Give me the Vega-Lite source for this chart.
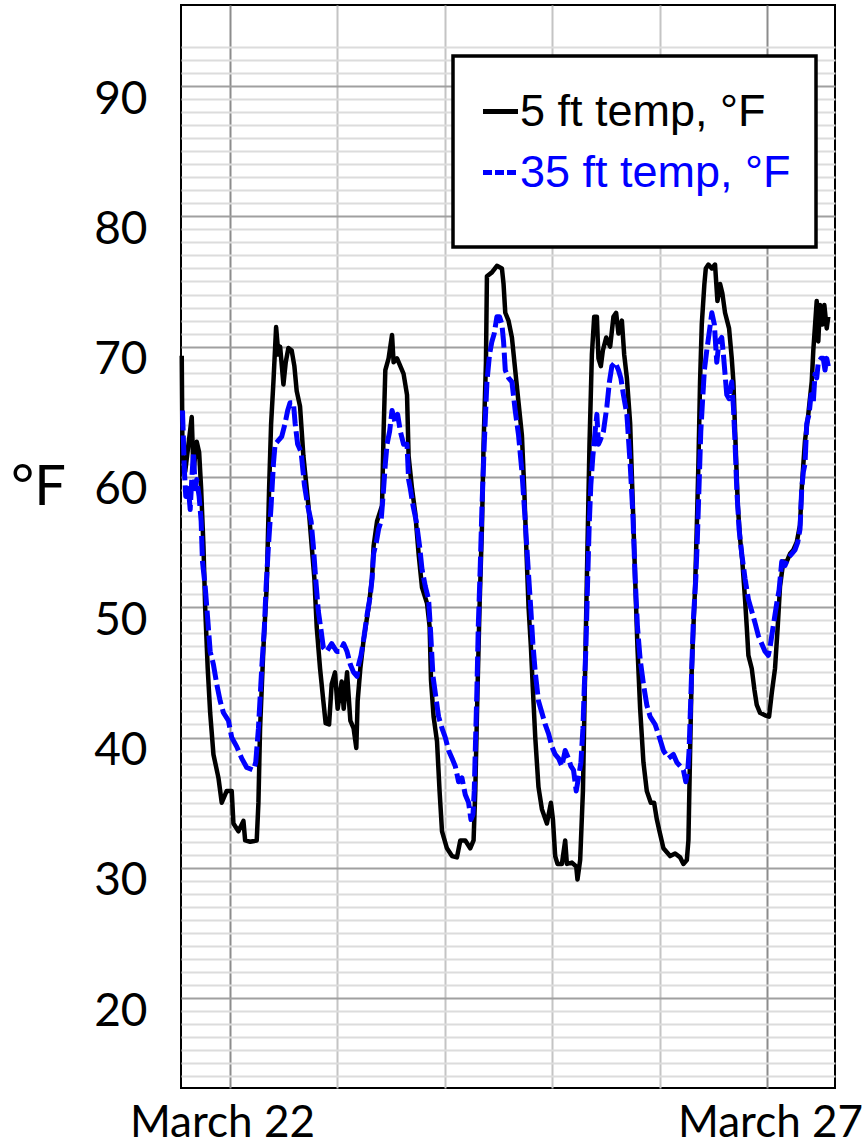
{
 "$schema": "https://vega.github.io/schema/vega-lite/v6.json",
 "width": 654,
 "height": 1083,
 "autosize": {"type": "none"},
 "padding": {"left": 181, "top": 5, "right": 30, "bottom": 59},
 "background": "white",
 "config": {"view": {"stroke": "black", "strokeWidth": 2}},
 "data": {"values": [
{"t":"2019-03-21T13:14Z","v":69.3,"s":"5 ft temp, °F"},
{"t":"2019-03-21T13:24Z","v":61.6,"s":"5 ft temp, °F"},
{"t":"2019-03-21T14:00Z","v":60.4,"s":"5 ft temp, °F"},
{"t":"2019-03-21T15:28Z","v":64.6,"s":"5 ft temp, °F"},
{"t":"2019-03-21T15:51Z","v":60.4,"s":"5 ft temp, °F"},
{"t":"2019-03-21T16:35Z","v":62.7,"s":"5 ft temp, °F"},
{"t":"2019-03-21T17:07Z","v":61.9,"s":"5 ft temp, °F"},
{"t":"2019-03-21T17:34Z","v":59.1,"s":"5 ft temp, °F"},
{"t":"2019-03-21T18:05Z","v":54.7,"s":"5 ft temp, °F"},
{"t":"2019-03-21T18:28Z","v":50.0,"s":"5 ft temp, °F"},
{"t":"2019-03-21T19:02Z","v":45.3,"s":"5 ft temp, °F"},
{"t":"2019-03-21T19:35Z","v":41.9,"s":"5 ft temp, °F"},
{"t":"2019-03-21T20:19Z","v":38.7,"s":"5 ft temp, °F"},
{"t":"2019-03-21T21:26Z","v":36.9,"s":"5 ft temp, °F"},
{"t":"2019-03-21T22:10Z","v":35.0,"s":"5 ft temp, °F"},
{"t":"2019-03-21T23:17Z","v":35.9,"s":"5 ft temp, °F"},
{"t":"2019-03-22T00:24Z","v":35.9,"s":"5 ft temp, °F"},
{"t":"2019-03-22T00:47Z","v":33.4,"s":"5 ft temp, °F"},
{"t":"2019-03-22T01:54Z","v":32.8,"s":"5 ft temp, °F"},
{"t":"2019-03-22T03:01Z","v":33.6,"s":"5 ft temp, °F"},
{"t":"2019-03-22T03:24Z","v":32.1,"s":"5 ft temp, °F"},
{"t":"2019-03-22T04:31Z","v":32.0,"s":"5 ft temp, °F"},
{"t":"2019-03-22T05:59Z","v":32.1,"s":"5 ft temp, °F"},
{"t":"2019-03-22T06:22Z","v":35.0,"s":"5 ft temp, °F"},
{"t":"2019-03-22T06:44Z","v":40.7,"s":"5 ft temp, °F"},
{"t":"2019-03-22T07:29Z","v":46.9,"s":"5 ft temp, °F"},
{"t":"2019-03-22T08:13Z","v":51.6,"s":"5 ft temp, °F"},
{"t":"2019-03-22T08:45Z","v":59.1,"s":"5 ft temp, °F"},
{"t":"2019-03-22T09:12Z","v":64.1,"s":"5 ft temp, °F"},
{"t":"2019-03-22T09:43Z","v":67.3,"s":"5 ft temp, °F"},
{"t":"2019-03-22T10:19Z","v":71.5,"s":"5 ft temp, °F"},
{"t":"2019-03-22T10:50Z","v":69.4,"s":"5 ft temp, °F"},
{"t":"2019-03-22T11:13Z","v":70.0,"s":"5 ft temp, °F"},
{"t":"2019-03-22T11:57Z","v":67.1,"s":"5 ft temp, °F"},
{"t":"2019-03-22T12:28Z","v":68.8,"s":"5 ft temp, °F"},
{"t":"2019-03-22T13:04Z","v":69.9,"s":"5 ft temp, °F"},
{"t":"2019-03-22T13:48Z","v":69.7,"s":"5 ft temp, °F"},
{"t":"2019-03-22T14:24Z","v":68.5,"s":"5 ft temp, °F"},
{"t":"2019-03-22T14:55Z","v":66.6,"s":"5 ft temp, °F"},
{"t":"2019-03-22T15:40Z","v":65.4,"s":"5 ft temp, °F"},
{"t":"2019-03-22T16:25Z","v":61.6,"s":"5 ft temp, °F"},
{"t":"2019-03-22T17:32Z","v":57.8,"s":"5 ft temp, °F"},
{"t":"2019-03-22T18:16Z","v":54.7,"s":"5 ft temp, °F"},
{"t":"2019-03-22T18:52Z","v":52.2,"s":"5 ft temp, °F"},
{"t":"2019-03-22T19:23Z","v":48.5,"s":"5 ft temp, °F"},
{"t":"2019-03-22T20:08Z","v":45.3,"s":"5 ft temp, °F"},
{"t":"2019-03-22T20:52Z","v":42.8,"s":"5 ft temp, °F"},
{"t":"2019-03-22T21:23Z","v":41.1,"s":"5 ft temp, °F"},
{"t":"2019-03-22T22:09Z","v":41.0,"s":"5 ft temp, °F"},
{"t":"2019-03-22T22:44Z","v":44.1,"s":"5 ft temp, °F"},
{"t":"2019-03-22T23:29Z","v":45.0,"s":"5 ft temp, °F"},
{"t":"2019-03-23T00:04Z","v":42.2,"s":"5 ft temp, °F"},
{"t":"2019-03-23T00:58Z","v":44.3,"s":"5 ft temp, °F"},
{"t":"2019-03-23T01:25Z","v":42.2,"s":"5 ft temp, °F"},
{"t":"2019-03-23T02:10Z","v":45.0,"s":"5 ft temp, °F"},
{"t":"2019-03-23T02:54Z","v":41.3,"s":"5 ft temp, °F"},
{"t":"2019-03-23T03:38Z","v":40.7,"s":"5 ft temp, °F"},
{"t":"2019-03-23T04:14Z","v":39.2,"s":"5 ft temp, °F"},
{"t":"2019-03-23T04:32Z","v":42.8,"s":"5 ft temp, °F"},
{"t":"2019-03-23T05:08Z","v":45.3,"s":"5 ft temp, °F"},
{"t":"2019-03-23T05:52Z","v":47.5,"s":"5 ft temp, °F"},
{"t":"2019-03-23T06:59Z","v":50.0,"s":"5 ft temp, °F"},
{"t":"2019-03-23T07:45Z","v":52.2,"s":"5 ft temp, °F"},
{"t":"2019-03-23T08:06Z","v":54.7,"s":"5 ft temp, °F"},
{"t":"2019-03-23T08:52Z","v":56.6,"s":"5 ft temp, °F"},
{"t":"2019-03-23T09:59Z","v":57.8,"s":"5 ft temp, °F"},
{"t":"2019-03-23T10:20Z","v":63.5,"s":"5 ft temp, °F"},
{"t":"2019-03-23T10:43Z","v":68.2,"s":"5 ft temp, °F"},
{"t":"2019-03-23T11:27Z","v":69.1,"s":"5 ft temp, °F"},
{"t":"2019-03-23T12:13Z","v":70.9,"s":"5 ft temp, °F"},
{"t":"2019-03-23T12:34Z","v":68.8,"s":"5 ft temp, °F"},
{"t":"2019-03-23T13:20Z","v":69.1,"s":"5 ft temp, °F"},
{"t":"2019-03-23T14:04Z","v":68.5,"s":"5 ft temp, °F"},
{"t":"2019-03-23T14:48Z","v":67.9,"s":"5 ft temp, °F"},
{"t":"2019-03-23T15:34Z","v":66.3,"s":"5 ft temp, °F"},
{"t":"2019-03-23T15:55Z","v":61.6,"s":"5 ft temp, °F"},
{"t":"2019-03-23T16:41Z","v":59.1,"s":"5 ft temp, °F"},
{"t":"2019-03-23T17:25Z","v":57.2,"s":"5 ft temp, °F"},
{"t":"2019-03-23T18:09Z","v":54.1,"s":"5 ft temp, °F"},
{"t":"2019-03-23T18:55Z","v":51.5,"s":"5 ft temp, °F"},
{"t":"2019-03-23T20:02Z","v":50.3,"s":"5 ft temp, °F"},
{"t":"2019-03-23T20:37Z","v":48.5,"s":"5 ft temp, °F"},
{"t":"2019-03-23T20:55Z","v":44.4,"s":"5 ft temp, °F"},
{"t":"2019-03-23T21:30Z","v":41.6,"s":"5 ft temp, °F"},
{"t":"2019-03-23T22:16Z","v":39.7,"s":"5 ft temp, °F"},
{"t":"2019-03-23T22:50Z","v":35.9,"s":"5 ft temp, °F"},
{"t":"2019-03-23T23:23Z","v":32.8,"s":"5 ft temp, °F"},
{"t":"2019-03-24T00:29Z","v":31.5,"s":"5 ft temp, °F"},
{"t":"2019-03-24T01:37Z","v":30.9,"s":"5 ft temp, °F"},
{"t":"2019-03-24T02:43Z","v":30.8,"s":"5 ft temp, °F"},
{"t":"2019-03-24T03:28Z","v":32.1,"s":"5 ft temp, °F"},
{"t":"2019-03-24T04:35Z","v":32.1,"s":"5 ft temp, °F"},
{"t":"2019-03-24T05:41Z","v":31.5,"s":"5 ft temp, °F"},
{"t":"2019-03-24T06:26Z","v":32.1,"s":"5 ft temp, °F"},
{"t":"2019-03-24T06:49Z","v":35.9,"s":"5 ft temp, °F"},
{"t":"2019-03-24T07:19Z","v":43.7,"s":"5 ft temp, °F"},
{"t":"2019-03-24T07:46Z","v":50.0,"s":"5 ft temp, °F"},
{"t":"2019-03-24T08:19Z","v":56.3,"s":"5 ft temp, °F"},
{"t":"2019-03-24T08:40Z","v":62.5,"s":"5 ft temp, °F"},
{"t":"2019-03-24T09:12Z","v":68.8,"s":"5 ft temp, °F"},
{"t":"2019-03-24T09:25Z","v":75.4,"s":"5 ft temp, °F"},
{"t":"2019-03-24T10:32Z","v":75.7,"s":"5 ft temp, °F"},
{"t":"2019-03-24T11:39Z","v":76.2,"s":"5 ft temp, °F"},
{"t":"2019-03-24T12:46Z","v":76.0,"s":"5 ft temp, °F"},
{"t":"2019-03-24T13:08Z","v":74.8,"s":"5 ft temp, °F"},
{"t":"2019-03-24T13:31Z","v":72.6,"s":"5 ft temp, °F"},
{"t":"2019-03-24T14:14Z","v":72.0,"s":"5 ft temp, °F"},
{"t":"2019-03-24T15:00Z","v":70.7,"s":"5 ft temp, °F"},
{"t":"2019-03-24T15:44Z","v":68.2,"s":"5 ft temp, °F"},
{"t":"2019-03-24T16:29Z","v":65.7,"s":"5 ft temp, °F"},
{"t":"2019-03-24T17:14Z","v":63.2,"s":"5 ft temp, °F"},
{"t":"2019-03-24T17:45Z","v":59.1,"s":"5 ft temp, °F"},
{"t":"2019-03-24T18:12Z","v":54.7,"s":"5 ft temp, °F"},
{"t":"2019-03-24T18:43Z","v":50.0,"s":"5 ft temp, °F"},
{"t":"2019-03-24T19:15Z","v":46.9,"s":"5 ft temp, °F"},
{"t":"2019-03-24T19:41Z","v":43.7,"s":"5 ft temp, °F"},
{"t":"2019-03-24T20:13Z","v":40.0,"s":"5 ft temp, °F"},
{"t":"2019-03-24T20:56Z","v":36.2,"s":"5 ft temp, °F"},
{"t":"2019-03-24T21:42Z","v":34.5,"s":"5 ft temp, °F"},
{"t":"2019-03-24T22:49Z","v":33.4,"s":"5 ft temp, °F"},
{"t":"2019-03-24T23:43Z","v":35.0,"s":"5 ft temp, °F"},
{"t":"2019-03-25T00:10Z","v":33.7,"s":"5 ft temp, °F"},
{"t":"2019-03-25T00:40Z","v":30.9,"s":"5 ft temp, °F"},
{"t":"2019-03-25T01:11Z","v":30.3,"s":"5 ft temp, °F"},
{"t":"2019-03-25T02:10Z","v":30.3,"s":"5 ft temp, °F"},
{"t":"2019-03-25T02:54Z","v":32.1,"s":"5 ft temp, °F"},
{"t":"2019-03-25T03:17Z","v":30.3,"s":"5 ft temp, °F"},
{"t":"2019-03-25T04:24Z","v":30.4,"s":"5 ft temp, °F"},
{"t":"2019-03-25T05:22Z","v":30.1,"s":"5 ft temp, °F"},
{"t":"2019-03-25T05:39Z","v":29.1,"s":"5 ft temp, °F"},
{"t":"2019-03-25T06:15Z","v":30.6,"s":"5 ft temp, °F"},
{"t":"2019-03-25T06:52Z","v":35.9,"s":"5 ft temp, °F"},
{"t":"2019-03-25T07:22Z","v":45.3,"s":"5 ft temp, °F"},
{"t":"2019-03-25T07:53Z","v":54.7,"s":"5 ft temp, °F"},
{"t":"2019-03-25T08:20Z","v":62.5,"s":"5 ft temp, °F"},
{"t":"2019-03-25T08:52Z","v":69.4,"s":"5 ft temp, °F"},
{"t":"2019-03-25T09:23Z","v":72.3,"s":"5 ft temp, °F"},
{"t":"2019-03-25T09:59Z","v":72.3,"s":"5 ft temp, °F"},
{"t":"2019-03-25T10:20Z","v":69.1,"s":"5 ft temp, °F"},
{"t":"2019-03-25T10:52Z","v":68.5,"s":"5 ft temp, °F"},
{"t":"2019-03-25T11:19Z","v":69.7,"s":"5 ft temp, °F"},
{"t":"2019-03-25T12:04Z","v":70.7,"s":"5 ft temp, °F"},
{"t":"2019-03-25T12:57Z","v":70.0,"s":"5 ft temp, °F"},
{"t":"2019-03-25T13:41Z","v":72.3,"s":"5 ft temp, °F"},
{"t":"2019-03-25T14:17Z","v":72.6,"s":"5 ft temp, °F"},
{"t":"2019-03-25T14:48Z","v":71.0,"s":"5 ft temp, °F"},
{"t":"2019-03-25T15:34Z","v":72.0,"s":"5 ft temp, °F"},
{"t":"2019-03-25T16:05Z","v":69.4,"s":"5 ft temp, °F"},
{"t":"2019-03-25T16:41Z","v":67.6,"s":"5 ft temp, °F"},
{"t":"2019-03-25T17:25Z","v":64.1,"s":"5 ft temp, °F"},
{"t":"2019-03-25T18:01Z","v":57.8,"s":"5 ft temp, °F"},
{"t":"2019-03-25T18:32Z","v":52.2,"s":"5 ft temp, °F"},
{"t":"2019-03-25T19:03Z","v":46.9,"s":"5 ft temp, °F"},
{"t":"2019-03-25T19:39Z","v":42.2,"s":"5 ft temp, °F"},
{"t":"2019-03-25T20:23Z","v":38.1,"s":"5 ft temp, °F"},
{"t":"2019-03-25T21:08Z","v":35.9,"s":"5 ft temp, °F"},
{"t":"2019-03-25T22:02Z","v":35.0,"s":"5 ft temp, °F"},
{"t":"2019-03-25T22:46Z","v":35.0,"s":"5 ft temp, °F"},
{"t":"2019-03-25T23:23Z","v":33.7,"s":"5 ft temp, °F"},
{"t":"2019-03-25T23:58Z","v":32.8,"s":"5 ft temp, °F"},
{"t":"2019-03-26T00:51Z","v":31.5,"s":"5 ft temp, °F"},
{"t":"2019-03-26T02:21Z","v":30.9,"s":"5 ft temp, °F"},
{"t":"2019-03-26T03:28Z","v":31.1,"s":"5 ft temp, °F"},
{"t":"2019-03-26T04:35Z","v":30.8,"s":"5 ft temp, °F"},
{"t":"2019-03-26T05:19Z","v":30.3,"s":"5 ft temp, °F"},
{"t":"2019-03-26T06:05Z","v":30.6,"s":"5 ft temp, °F"},
{"t":"2019-03-26T06:26Z","v":32.1,"s":"5 ft temp, °F"},
{"t":"2019-03-26T06:49Z","v":39.0,"s":"5 ft temp, °F"},
{"t":"2019-03-26T07:11Z","v":45.3,"s":"5 ft temp, °F"},
{"t":"2019-03-26T07:33Z","v":48.5,"s":"5 ft temp, °F"},
{"t":"2019-03-26T07:56Z","v":51.6,"s":"5 ft temp, °F"},
{"t":"2019-03-26T08:19Z","v":56.3,"s":"5 ft temp, °F"},
{"t":"2019-03-26T08:40Z","v":61.0,"s":"5 ft temp, °F"},
{"t":"2019-03-26T09:02Z","v":67.3,"s":"5 ft temp, °F"},
{"t":"2019-03-26T09:25Z","v":71.7,"s":"5 ft temp, °F"},
{"t":"2019-03-26T10:00Z","v":74.8,"s":"5 ft temp, °F"},
{"t":"2019-03-26T10:19Z","v":76.0,"s":"5 ft temp, °F"},
{"t":"2019-03-26T10:54Z","v":76.3,"s":"5 ft temp, °F"},
{"t":"2019-03-26T11:40Z","v":76.0,"s":"5 ft temp, °F"},
{"t":"2019-03-26T12:23Z","v":76.3,"s":"5 ft temp, °F"},
{"t":"2019-03-26T12:55Z","v":73.5,"s":"5 ft temp, °F"},
{"t":"2019-03-26T13:31Z","v":74.8,"s":"5 ft temp, °F"},
{"t":"2019-03-26T14:01Z","v":74.1,"s":"5 ft temp, °F"},
{"t":"2019-03-26T14:37Z","v":72.6,"s":"5 ft temp, °F"},
{"t":"2019-03-26T15:31Z","v":71.4,"s":"5 ft temp, °F"},
{"t":"2019-03-26T16:07Z","v":69.1,"s":"5 ft temp, °F"},
{"t":"2019-03-26T16:29Z","v":67.3,"s":"5 ft temp, °F"},
{"t":"2019-03-26T16:52Z","v":63.5,"s":"5 ft temp, °F"},
{"t":"2019-03-26T17:28Z","v":57.8,"s":"5 ft temp, °F"},
{"t":"2019-03-26T17:58Z","v":55.3,"s":"5 ft temp, °F"},
{"t":"2019-03-26T18:29Z","v":53.5,"s":"5 ft temp, °F"},
{"t":"2019-03-26T19:05Z","v":50.6,"s":"5 ft temp, °F"},
{"t":"2019-03-26T19:28Z","v":48.5,"s":"5 ft temp, °F"},
{"t":"2019-03-26T19:50Z","v":46.3,"s":"5 ft temp, °F"},
{"t":"2019-03-26T20:35Z","v":45.3,"s":"5 ft temp, °F"},
{"t":"2019-03-26T21:10Z","v":43.7,"s":"5 ft temp, °F"},
{"t":"2019-03-26T21:42Z","v":42.5,"s":"5 ft temp, °F"},
{"t":"2019-03-26T22:26Z","v":41.9,"s":"5 ft temp, °F"},
{"t":"2019-03-26T23:33Z","v":41.7,"s":"5 ft temp, °F"},
{"t":"2019-03-27T00:27Z","v":41.6,"s":"5 ft temp, °F"},
{"t":"2019-03-27T01:03Z","v":43.4,"s":"5 ft temp, °F"},
{"t":"2019-03-27T01:47Z","v":45.3,"s":"5 ft temp, °F"},
{"t":"2019-03-27T02:23Z","v":48.5,"s":"5 ft temp, °F"},
{"t":"2019-03-27T02:54Z","v":51.6,"s":"5 ft temp, °F"},
{"t":"2019-03-27T03:38Z","v":53.5,"s":"5 ft temp, °F"},
{"t":"2019-03-27T04:24Z","v":53.5,"s":"5 ft temp, °F"},
{"t":"2019-03-27T05:08Z","v":54.1,"s":"5 ft temp, °F"},
{"t":"2019-03-27T05:52Z","v":54.4,"s":"5 ft temp, °F"},
{"t":"2019-03-27T06:38Z","v":55.0,"s":"5 ft temp, °F"},
{"t":"2019-03-27T07:22Z","v":56.3,"s":"5 ft temp, °F"},
{"t":"2019-03-27T07:45Z","v":59.1,"s":"5 ft temp, °F"},
{"t":"2019-03-27T08:07Z","v":61.0,"s":"5 ft temp, °F"},
{"t":"2019-03-27T08:29Z","v":62.8,"s":"5 ft temp, °F"},
{"t":"2019-03-27T09:13Z","v":64.8,"s":"5 ft temp, °F"},
{"t":"2019-03-27T09:59Z","v":67.3,"s":"5 ft temp, °F"},
{"t":"2019-03-27T10:20Z","v":69.7,"s":"5 ft temp, °F"},
{"t":"2019-03-27T11:06Z","v":73.5,"s":"5 ft temp, °F"},
{"t":"2019-03-27T11:27Z","v":70.4,"s":"5 ft temp, °F"},
{"t":"2019-03-27T11:50Z","v":73.2,"s":"5 ft temp, °F"},
{"t":"2019-03-27T12:21Z","v":71.7,"s":"5 ft temp, °F"},
{"t":"2019-03-27T12:48Z","v":73.2,"s":"5 ft temp, °F"},
{"t":"2019-03-27T13:20Z","v":71.4,"s":"5 ft temp, °F"},
{"t":"2019-03-27T13:41Z","v":72.3,"s":"5 ft temp, °F"},
{"t":"2019-03-21T13:24Z","v":65.1,"s":"35 ft temp, °F"},
{"t":"2019-03-21T13:50Z","v":60.4,"s":"35 ft temp, °F"},
{"t":"2019-03-21T14:08Z","v":58.5,"s":"35 ft temp, °F"},
{"t":"2019-03-21T14:44Z","v":59.1,"s":"35 ft temp, °F"},
{"t":"2019-03-21T15:07Z","v":57.5,"s":"35 ft temp, °F"},
{"t":"2019-03-21T15:28Z","v":59.8,"s":"35 ft temp, °F"},
{"t":"2019-03-21T15:51Z","v":61.9,"s":"35 ft temp, °F"},
{"t":"2019-03-21T16:14Z","v":59.1,"s":"35 ft temp, °F"},
{"t":"2019-03-21T16:35Z","v":59.8,"s":"35 ft temp, °F"},
{"t":"2019-03-21T17:07Z","v":58.5,"s":"35 ft temp, °F"},
{"t":"2019-03-21T17:34Z","v":56.6,"s":"35 ft temp, °F"},
{"t":"2019-03-21T17:52Z","v":53.5,"s":"35 ft temp, °F"},
{"t":"2019-03-21T18:28Z","v":51.6,"s":"35 ft temp, °F"},
{"t":"2019-03-21T19:02Z","v":49.1,"s":"35 ft temp, °F"},
{"t":"2019-03-21T19:35Z","v":46.6,"s":"35 ft temp, °F"},
{"t":"2019-03-21T20:19Z","v":45.6,"s":"35 ft temp, °F"},
{"t":"2019-03-21T21:03Z","v":44.1,"s":"35 ft temp, °F"},
{"t":"2019-03-21T21:49Z","v":42.8,"s":"35 ft temp, °F"},
{"t":"2019-03-21T22:33Z","v":41.9,"s":"35 ft temp, °F"},
{"t":"2019-03-21T23:40Z","v":41.3,"s":"35 ft temp, °F"},
{"t":"2019-03-22T00:24Z","v":40.0,"s":"35 ft temp, °F"},
{"t":"2019-03-22T01:31Z","v":39.3,"s":"35 ft temp, °F"},
{"t":"2019-03-22T02:38Z","v":38.4,"s":"35 ft temp, °F"},
{"t":"2019-03-22T03:45Z","v":37.7,"s":"35 ft temp, °F"},
{"t":"2019-03-22T05:15Z","v":37.5,"s":"35 ft temp, °F"},
{"t":"2019-03-22T05:46Z","v":38.1,"s":"35 ft temp, °F"},
{"t":"2019-03-22T06:22Z","v":40.7,"s":"35 ft temp, °F"},
{"t":"2019-03-22T07:06Z","v":45.3,"s":"35 ft temp, °F"},
{"t":"2019-03-22T07:42Z","v":48.5,"s":"35 ft temp, °F"},
{"t":"2019-03-22T08:05Z","v":51.6,"s":"35 ft temp, °F"},
{"t":"2019-03-22T08:36Z","v":54.7,"s":"35 ft temp, °F"},
{"t":"2019-03-22T09:12Z","v":57.8,"s":"35 ft temp, °F"},
{"t":"2019-03-22T09:43Z","v":61.0,"s":"35 ft temp, °F"},
{"t":"2019-03-22T10:05Z","v":62.5,"s":"35 ft temp, °F"},
{"t":"2019-03-22T10:50Z","v":62.8,"s":"35 ft temp, °F"},
{"t":"2019-03-22T11:34Z","v":63.1,"s":"35 ft temp, °F"},
{"t":"2019-03-22T12:19Z","v":64.1,"s":"35 ft temp, °F"},
{"t":"2019-03-22T12:54Z","v":65.1,"s":"35 ft temp, °F"},
{"t":"2019-03-22T13:26Z","v":65.7,"s":"35 ft temp, °F"},
{"t":"2019-03-22T14:11Z","v":65.7,"s":"35 ft temp, °F"},
{"t":"2019-03-22T14:34Z","v":64.1,"s":"35 ft temp, °F"},
{"t":"2019-03-22T15:08Z","v":62.5,"s":"35 ft temp, °F"},
{"t":"2019-03-22T15:54Z","v":61.9,"s":"35 ft temp, °F"},
{"t":"2019-03-22T16:38Z","v":59.4,"s":"35 ft temp, °F"},
{"t":"2019-03-22T17:22Z","v":57.8,"s":"35 ft temp, °F"},
{"t":"2019-03-22T18:08Z","v":56.6,"s":"35 ft temp, °F"},
{"t":"2019-03-22T18:38Z","v":54.7,"s":"35 ft temp, °F"},
{"t":"2019-03-22T19:09Z","v":52.2,"s":"35 ft temp, °F"},
{"t":"2019-03-22T19:45Z","v":49.7,"s":"35 ft temp, °F"},
{"t":"2019-03-22T20:22Z","v":48.2,"s":"35 ft temp, °F"},
{"t":"2019-03-22T20:52Z","v":46.9,"s":"35 ft temp, °F"},
{"t":"2019-03-22T21:37Z","v":46.6,"s":"35 ft temp, °F"},
{"t":"2019-03-22T22:44Z","v":47.2,"s":"35 ft temp, °F"},
{"t":"2019-03-22T23:51Z","v":46.6,"s":"35 ft temp, °F"},
{"t":"2019-03-23T00:40Z","v":46.6,"s":"35 ft temp, °F"},
{"t":"2019-03-23T01:25Z","v":47.2,"s":"35 ft temp, °F"},
{"t":"2019-03-23T02:10Z","v":46.6,"s":"35 ft temp, °F"},
{"t":"2019-03-23T02:54Z","v":45.6,"s":"35 ft temp, °F"},
{"t":"2019-03-23T03:38Z","v":45.0,"s":"35 ft temp, °F"},
{"t":"2019-03-23T04:24Z","v":44.7,"s":"35 ft temp, °F"},
{"t":"2019-03-23T04:45Z","v":45.6,"s":"35 ft temp, °F"},
{"t":"2019-03-23T05:17Z","v":46.3,"s":"35 ft temp, °F"},
{"t":"2019-03-23T05:52Z","v":47.5,"s":"35 ft temp, °F"},
{"t":"2019-03-23T06:38Z","v":49.4,"s":"35 ft temp, °F"},
{"t":"2019-03-23T07:22Z","v":50.9,"s":"35 ft temp, °F"},
{"t":"2019-03-23T07:45Z","v":52.2,"s":"35 ft temp, °F"},
{"t":"2019-03-23T08:06Z","v":54.1,"s":"35 ft temp, °F"},
{"t":"2019-03-23T08:43Z","v":55.0,"s":"35 ft temp, °F"},
{"t":"2019-03-23T09:13Z","v":56.0,"s":"35 ft temp, °F"},
{"t":"2019-03-23T09:46Z","v":56.6,"s":"35 ft temp, °F"},
{"t":"2019-03-23T10:20Z","v":59.1,"s":"35 ft temp, °F"},
{"t":"2019-03-23T10:43Z","v":61.0,"s":"35 ft temp, °F"},
{"t":"2019-03-23T11:06Z","v":62.5,"s":"35 ft temp, °F"},
{"t":"2019-03-23T11:41Z","v":63.5,"s":"35 ft temp, °F"},
{"t":"2019-03-23T12:13Z","v":65.1,"s":"35 ft temp, °F"},
{"t":"2019-03-23T12:57Z","v":64.1,"s":"35 ft temp, °F"},
{"t":"2019-03-23T13:28Z","v":64.8,"s":"35 ft temp, °F"},
{"t":"2019-03-23T14:04Z","v":63.5,"s":"35 ft temp, °F"},
{"t":"2019-03-23T14:48Z","v":62.5,"s":"35 ft temp, °F"},
{"t":"2019-03-23T15:34Z","v":62.5,"s":"35 ft temp, °F"},
{"t":"2019-03-23T15:55Z","v":59.8,"s":"35 ft temp, °F"},
{"t":"2019-03-23T16:18Z","v":59.1,"s":"35 ft temp, °F"},
{"t":"2019-03-23T16:54Z","v":57.8,"s":"35 ft temp, °F"},
{"t":"2019-03-23T17:38Z","v":56.6,"s":"35 ft temp, °F"},
{"t":"2019-03-23T18:22Z","v":54.7,"s":"35 ft temp, °F"},
{"t":"2019-03-23T18:55Z","v":52.9,"s":"35 ft temp, °F"},
{"t":"2019-03-23T19:39Z","v":51.6,"s":"35 ft temp, °F"},
{"t":"2019-03-23T20:23Z","v":50.6,"s":"35 ft temp, °F"},
{"t":"2019-03-23T20:46Z","v":48.5,"s":"35 ft temp, °F"},
{"t":"2019-03-23T21:22Z","v":44.7,"s":"35 ft temp, °F"},
{"t":"2019-03-23T21:53Z","v":43.4,"s":"35 ft temp, °F"},
{"t":"2019-03-23T22:37Z","v":41.6,"s":"35 ft temp, °F"},
{"t":"2019-03-23T23:23Z","v":40.7,"s":"35 ft temp, °F"},
{"t":"2019-03-24T00:07Z","v":40.0,"s":"35 ft temp, °F"},
{"t":"2019-03-24T00:51Z","v":39.0,"s":"35 ft temp, °F"},
{"t":"2019-03-24T01:37Z","v":38.4,"s":"35 ft temp, °F"},
{"t":"2019-03-24T02:21Z","v":37.8,"s":"35 ft temp, °F"},
{"t":"2019-03-24T03:05Z","v":36.6,"s":"35 ft temp, °F"},
{"t":"2019-03-24T03:50Z","v":36.9,"s":"35 ft temp, °F"},
{"t":"2019-03-24T04:35Z","v":35.6,"s":"35 ft temp, °F"},
{"t":"2019-03-24T05:19Z","v":35.0,"s":"35 ft temp, °F"},
{"t":"2019-03-24T05:51Z","v":33.7,"s":"35 ft temp, °F"},
{"t":"2019-03-24T06:18Z","v":34.1,"s":"35 ft temp, °F"},
{"t":"2019-03-24T06:35Z","v":35.9,"s":"35 ft temp, °F"},
{"t":"2019-03-24T06:49Z","v":39.0,"s":"35 ft temp, °F"},
{"t":"2019-03-24T07:11Z","v":43.7,"s":"35 ft temp, °F"},
{"t":"2019-03-24T07:29Z","v":48.5,"s":"35 ft temp, °F"},
{"t":"2019-03-24T07:56Z","v":53.2,"s":"35 ft temp, °F"},
{"t":"2019-03-24T08:19Z","v":57.8,"s":"35 ft temp, °F"},
{"t":"2019-03-24T08:49Z","v":62.5,"s":"35 ft temp, °F"},
{"t":"2019-03-24T09:25Z","v":67.3,"s":"35 ft temp, °F"},
{"t":"2019-03-24T10:00Z","v":69.4,"s":"35 ft temp, °F"},
{"t":"2019-03-24T10:32Z","v":70.4,"s":"35 ft temp, °F"},
{"t":"2019-03-24T11:03Z","v":71.0,"s":"35 ft temp, °F"},
{"t":"2019-03-24T11:39Z","v":72.3,"s":"35 ft temp, °F"},
{"t":"2019-03-24T12:14Z","v":72.3,"s":"35 ft temp, °F"},
{"t":"2019-03-24T12:46Z","v":71.7,"s":"35 ft temp, °F"},
{"t":"2019-03-24T13:08Z","v":70.4,"s":"35 ft temp, °F"},
{"t":"2019-03-24T13:31Z","v":68.2,"s":"35 ft temp, °F"},
{"t":"2019-03-24T14:14Z","v":67.6,"s":"35 ft temp, °F"},
{"t":"2019-03-24T15:00Z","v":67.3,"s":"35 ft temp, °F"},
{"t":"2019-03-24T15:44Z","v":65.1,"s":"35 ft temp, °F"},
{"t":"2019-03-24T16:29Z","v":63.2,"s":"35 ft temp, °F"},
{"t":"2019-03-24T17:14Z","v":60.4,"s":"35 ft temp, °F"},
{"t":"2019-03-24T17:45Z","v":57.8,"s":"35 ft temp, °F"},
{"t":"2019-03-24T18:12Z","v":55.3,"s":"35 ft temp, °F"},
{"t":"2019-03-24T18:43Z","v":52.5,"s":"35 ft temp, °F"},
{"t":"2019-03-24T19:15Z","v":49.7,"s":"35 ft temp, °F"},
{"t":"2019-03-24T19:41Z","v":47.2,"s":"35 ft temp, °F"},
{"t":"2019-03-24T20:13Z","v":45.0,"s":"35 ft temp, °F"},
{"t":"2019-03-24T20:56Z","v":42.8,"s":"35 ft temp, °F"},
{"t":"2019-03-24T21:42Z","v":41.9,"s":"35 ft temp, °F"},
{"t":"2019-03-24T22:26Z","v":41.0,"s":"35 ft temp, °F"},
{"t":"2019-03-24T23:11Z","v":40.3,"s":"35 ft temp, °F"},
{"t":"2019-03-24T23:56Z","v":39.3,"s":"35 ft temp, °F"},
{"t":"2019-03-25T00:40Z","v":38.7,"s":"35 ft temp, °F"},
{"t":"2019-03-25T01:25Z","v":38.4,"s":"35 ft temp, °F"},
{"t":"2019-03-25T02:10Z","v":37.8,"s":"35 ft temp, °F"},
{"t":"2019-03-25T02:54Z","v":39.0,"s":"35 ft temp, °F"},
{"t":"2019-03-25T03:38Z","v":38.4,"s":"35 ft temp, °F"},
{"t":"2019-03-25T04:11Z","v":37.8,"s":"35 ft temp, °F"},
{"t":"2019-03-25T04:46Z","v":37.5,"s":"35 ft temp, °F"},
{"t":"2019-03-25T05:22Z","v":35.9,"s":"35 ft temp, °F"},
{"t":"2019-03-25T05:52Z","v":36.9,"s":"35 ft temp, °F"},
{"t":"2019-03-25T06:25Z","v":38.1,"s":"35 ft temp, °F"},
{"t":"2019-03-25T06:52Z","v":40.7,"s":"35 ft temp, °F"},
{"t":"2019-03-25T07:09Z","v":43.7,"s":"35 ft temp, °F"},
{"t":"2019-03-25T07:32Z","v":46.9,"s":"35 ft temp, °F"},
{"t":"2019-03-25T07:53Z","v":51.6,"s":"35 ft temp, °F"},
{"t":"2019-03-25T08:16Z","v":56.3,"s":"35 ft temp, °F"},
{"t":"2019-03-25T08:38Z","v":59.4,"s":"35 ft temp, °F"},
{"t":"2019-03-25T09:05Z","v":61.6,"s":"35 ft temp, °F"},
{"t":"2019-03-25T09:36Z","v":63.5,"s":"35 ft temp, °F"},
{"t":"2019-03-25T09:59Z","v":64.8,"s":"35 ft temp, °F"},
{"t":"2019-03-25T10:20Z","v":62.5,"s":"35 ft temp, °F"},
{"t":"2019-03-25T10:43Z","v":62.8,"s":"35 ft temp, °F"},
{"t":"2019-03-25T11:27Z","v":63.5,"s":"35 ft temp, °F"},
{"t":"2019-03-25T12:13Z","v":65.4,"s":"35 ft temp, °F"},
{"t":"2019-03-25T12:47Z","v":67.3,"s":"35 ft temp, °F"},
{"t":"2019-03-25T13:20Z","v":68.5,"s":"35 ft temp, °F"},
{"t":"2019-03-25T14:04Z","v":68.8,"s":"35 ft temp, °F"},
{"t":"2019-03-25T14:48Z","v":68.2,"s":"35 ft temp, °F"},
{"t":"2019-03-25T15:20Z","v":67.6,"s":"35 ft temp, °F"},
{"t":"2019-03-25T15:55Z","v":66.3,"s":"35 ft temp, °F"},
{"t":"2019-03-25T16:41Z","v":64.8,"s":"35 ft temp, °F"},
{"t":"2019-03-25T17:25Z","v":61.0,"s":"35 ft temp, °F"},
{"t":"2019-03-25T18:01Z","v":57.2,"s":"35 ft temp, °F"},
{"t":"2019-03-25T18:32Z","v":52.2,"s":"35 ft temp, °F"},
{"t":"2019-03-25T19:03Z","v":48.5,"s":"35 ft temp, °F"},
{"t":"2019-03-25T19:39Z","v":46.0,"s":"35 ft temp, °F"},
{"t":"2019-03-25T20:23Z","v":44.1,"s":"35 ft temp, °F"},
{"t":"2019-03-25T21:08Z","v":42.5,"s":"35 ft temp, °F"},
{"t":"2019-03-25T21:53Z","v":41.6,"s":"35 ft temp, °F"},
{"t":"2019-03-25T23:00Z","v":41.0,"s":"35 ft temp, °F"},
{"t":"2019-03-25T23:58Z","v":40.0,"s":"35 ft temp, °F"},
{"t":"2019-03-26T00:51Z","v":39.0,"s":"35 ft temp, °F"},
{"t":"2019-03-26T01:58Z","v":38.4,"s":"35 ft temp, °F"},
{"t":"2019-03-26T03:05Z","v":38.7,"s":"35 ft temp, °F"},
{"t":"2019-03-26T03:50Z","v":38.1,"s":"35 ft temp, °F"},
{"t":"2019-03-26T04:35Z","v":37.8,"s":"35 ft temp, °F"},
{"t":"2019-03-26T05:19Z","v":37.5,"s":"35 ft temp, °F"},
{"t":"2019-03-26T05:51Z","v":36.6,"s":"35 ft temp, °F"},
{"t":"2019-03-26T06:18Z","v":37.5,"s":"35 ft temp, °F"},
{"t":"2019-03-26T06:35Z","v":39.0,"s":"35 ft temp, °F"},
{"t":"2019-03-26T06:53Z","v":42.2,"s":"35 ft temp, °F"},
{"t":"2019-03-26T07:11Z","v":45.3,"s":"35 ft temp, °F"},
{"t":"2019-03-26T07:33Z","v":49.1,"s":"35 ft temp, °F"},
{"t":"2019-03-26T08:05Z","v":52.2,"s":"35 ft temp, °F"},
{"t":"2019-03-26T08:26Z","v":55.3,"s":"35 ft temp, °F"},
{"t":"2019-03-26T08:49Z","v":59.4,"s":"35 ft temp, °F"},
{"t":"2019-03-26T09:12Z","v":63.5,"s":"35 ft temp, °F"},
{"t":"2019-03-26T09:34Z","v":65.7,"s":"35 ft temp, °F"},
{"t":"2019-03-26T10:00Z","v":68.2,"s":"35 ft temp, °F"},
{"t":"2019-03-26T10:32Z","v":69.7,"s":"35 ft temp, °F"},
{"t":"2019-03-26T11:03Z","v":71.0,"s":"35 ft temp, °F"},
{"t":"2019-03-26T11:40Z","v":72.6,"s":"35 ft temp, °F"},
{"t":"2019-03-26T12:14Z","v":71.7,"s":"35 ft temp, °F"},
{"t":"2019-03-26T12:46Z","v":68.8,"s":"35 ft temp, °F"},
{"t":"2019-03-26T13:17Z","v":70.4,"s":"35 ft temp, °F"},
{"t":"2019-03-26T13:53Z","v":70.7,"s":"35 ft temp, °F"},
{"t":"2019-03-26T14:15Z","v":69.4,"s":"35 ft temp, °F"},
{"t":"2019-03-26T14:37Z","v":67.9,"s":"35 ft temp, °F"},
{"t":"2019-03-26T15:00Z","v":66.3,"s":"35 ft temp, °F"},
{"t":"2019-03-26T15:31Z","v":66.0,"s":"35 ft temp, °F"},
{"t":"2019-03-26T16:07Z","v":67.3,"s":"35 ft temp, °F"},
{"t":"2019-03-26T16:29Z","v":65.4,"s":"35 ft temp, °F"},
{"t":"2019-03-26T16:52Z","v":62.5,"s":"35 ft temp, °F"},
{"t":"2019-03-26T17:14Z","v":59.1,"s":"35 ft temp, °F"},
{"t":"2019-03-26T17:45Z","v":56.0,"s":"35 ft temp, °F"},
{"t":"2019-03-26T18:21Z","v":54.1,"s":"35 ft temp, °F"},
{"t":"2019-03-26T19:05Z","v":52.2,"s":"35 ft temp, °F"},
{"t":"2019-03-26T19:50Z","v":50.6,"s":"35 ft temp, °F"},
{"t":"2019-03-26T20:35Z","v":49.7,"s":"35 ft temp, °F"},
{"t":"2019-03-26T21:19Z","v":48.8,"s":"35 ft temp, °F"},
{"t":"2019-03-26T22:04Z","v":47.8,"s":"35 ft temp, °F"},
{"t":"2019-03-26T22:49Z","v":47.2,"s":"35 ft temp, °F"},
{"t":"2019-03-26T23:33Z","v":46.6,"s":"35 ft temp, °F"},
{"t":"2019-03-27T00:17Z","v":46.3,"s":"35 ft temp, °F"},
{"t":"2019-03-27T00:40Z","v":46.9,"s":"35 ft temp, °F"},
{"t":"2019-03-27T01:03Z","v":47.8,"s":"35 ft temp, °F"},
{"t":"2019-03-27T01:38Z","v":49.1,"s":"35 ft temp, °F"},
{"t":"2019-03-27T02:10Z","v":50.3,"s":"35 ft temp, °F"},
{"t":"2019-03-27T02:41Z","v":51.3,"s":"35 ft temp, °F"},
{"t":"2019-03-27T03:17Z","v":53.5,"s":"35 ft temp, °F"},
{"t":"2019-03-27T04:01Z","v":53.2,"s":"35 ft temp, °F"},
{"t":"2019-03-27T04:46Z","v":53.8,"s":"35 ft temp, °F"},
{"t":"2019-03-27T05:31Z","v":54.1,"s":"35 ft temp, °F"},
{"t":"2019-03-27T06:15Z","v":54.4,"s":"35 ft temp, °F"},
{"t":"2019-03-27T06:52Z","v":55.0,"s":"35 ft temp, °F"},
{"t":"2019-03-27T07:22Z","v":56.0,"s":"35 ft temp, °F"},
{"t":"2019-03-27T07:45Z","v":59.1,"s":"35 ft temp, °F"},
{"t":"2019-03-27T08:07Z","v":60.4,"s":"35 ft temp, °F"},
{"t":"2019-03-27T08:29Z","v":61.0,"s":"35 ft temp, °F"},
{"t":"2019-03-27T08:52Z","v":64.1,"s":"35 ft temp, °F"},
{"t":"2019-03-27T09:23Z","v":64.8,"s":"35 ft temp, °F"},
{"t":"2019-03-27T09:50Z","v":66.3,"s":"35 ft temp, °F"},
{"t":"2019-03-27T10:20Z","v":65.7,"s":"35 ft temp, °F"},
{"t":"2019-03-27T10:43Z","v":67.9,"s":"35 ft temp, °F"},
{"t":"2019-03-27T11:06Z","v":67.6,"s":"35 ft temp, °F"},
{"t":"2019-03-27T11:27Z","v":68.8,"s":"35 ft temp, °F"},
{"t":"2019-03-27T12:04Z","v":69.1,"s":"35 ft temp, °F"},
{"t":"2019-03-27T12:34Z","v":69.1,"s":"35 ft temp, °F"},
{"t":"2019-03-27T12:57Z","v":68.2,"s":"35 ft temp, °F"},
{"t":"2019-03-27T13:20Z","v":69.1,"s":"35 ft temp, °F"},
{"t":"2019-03-27T13:41Z","v":68.5,"s":"35 ft temp, °F"}
 ]},
 "encoding": {
  "x": {
   "field": "t", "type": "temporal",
   "scale": {"type": "utc", "nice": false, "domain": [{"year": 2019, "month": 3, "date": 21, "hours": 13, "minutes": 4, "utc": true}, {"year": 2019, "month": 3, "date": 27, "hours": 15, "minutes": 11, "utc": true}]},
   "axis": {
    "title": null,
    "values": [{"year": 2019, "month": 3, "date": 22, "utc": true}, {"year": 2019, "month": 3, "date": 23, "utc": true}, {"year": 2019, "month": 3, "date": 24, "utc": true}, {"year": 2019, "month": 3, "date": 25, "utc": true}, {"year": 2019, "month": 3, "date": 26, "utc": true}, {"year": 2019, "month": 3, "date": 27, "utc": true}],
    "labelExpr": "utcdate(datum.value) == 22 || utcdate(datum.value) == 27 ? utcFormat(datum.value, '%B %-d') : ''",
    "grid": true,
    "gridColor": {"condition": {"test": "utcdate(datum.value) == 22 || utcdate(datum.value) == 27", "value": "#8c8c8c"}, "value": "#c4c4c4"},
    "gridWidth": 2,
    "domain": false, "ticks": false, "tickSize": 0,
    "labelFont": "Lato", "labelFontSize": 44, "labelColor": "#000000", "labelLimit": 400,
    "labelPadding": 48, "labelBaseline": "alphabetic",
    "labelOffset": {"condition": {"test": "utcdate(datum.value) == 22", "value": -8}, "value": 3},
    "labelFlush": false, "labelOverlap": false, "labelBound": false
   }
  },
  "y": {
   "field": "v", "type": "quantitative",
   "scale": {"domain": [13.1, 96.22], "nice": false, "zero": false},
   "axis": {
    "values": [14,15,16,17,18,19,20,21,22,23,24,25,26,27,28,29,30,31,32,33,34,35,36,37,38,39,40,41,42,43,44,45,46,47,48,49,50,51,52,53,54,55,56,57,58,59,60,61,62,63,64,65,66,67,68,69,70,71,72,73,74,75,76,77,78,79,80,81,82,83,84,85,86,87,88,89,90,91,92,93],
    "labelExpr": "datum.value % 10 === 0 && datum.value >= 20 && datum.value <= 90 ? '' + datum.value : ''",
    "grid": true,
    "gridColor": {"condition": {"test": "datum.value % 10 === 0", "value": "#a0a0a0"}, "value": "#dcdcdc"},
    "gridWidth": 2,
    "domain": false, "ticks": false, "tickSize": 0,
    "labelFont": "Lato", "labelFontSize": 46, "labelColor": "#000000",
    "labelPadding": 34, "labelBaseline": "alphabetic", "labelOffset": 27,
    "labelOverlap": false, "labelBound": false, "labelFlush": false,
    "title": "°F", "titleAngle": 0, "titleFont": "Lato", "titleFontSize": 56, "titleFontWeight": "normal", "titleColor": "#000000",
    "titleAlign": "center", "titleBaseline": "alphabetic", "titleX": -143, "titleY": 499
   }
  },
  "color": {
   "field": "s", "type": "nominal",
   "scale": {"domain": ["5 ft temp, °F", "35 ft temp, °F"], "range": ["#000000", "#0000ff"]},
   "legend": {
    "title": " ",
    "titleOrient": "bottom",
    "titleFontSize": 10,
    "titlePadding": 9,
    "orient": "none", "legendX": 272, "legendY": 51,
    "direction": "vertical",
    "padding": 25,
    "clipHeight": 61,
    "rowPadding": 0,
    "strokeColor": "#000000",
    "fillColor": "#ffffff",
    "labelFont": "Liberation Sans", "labelFontSize": 45, "labelOffset": -3, "labelLimit": 500,
    "symbolType": "stroke", "symbolSize": 1225, "symbolStrokeWidth": 5,
    "encode": {
     "legend": {"update": {"strokeWidth": {"value": 3.5}}},
     "labels": {"update": {"fill": {"signal": "datum.value === '35 ft temp, °F' ? '#0000ff' : '#000000'"}}},
     "symbols": {"update": {"strokeDash": {"signal": "datum.value === '35 ft temp, °F' ? [9, 3] : [1, 0]"}}}
    }
   }
  }
 },
 "layer": [
  {"transform": [{"filter": "datum.s === '5 ft temp, °F'"}], "mark": {"type": "line", "strokeWidth": 4.5, "strokeJoin": "round"}},
  {"transform": [{"filter": "datum.s === '35 ft temp, °F'"}], "mark": {"type": "line", "strokeWidth": 5, "strokeDash": [20, 5], "strokeJoin": "round"}}
 ]
}
